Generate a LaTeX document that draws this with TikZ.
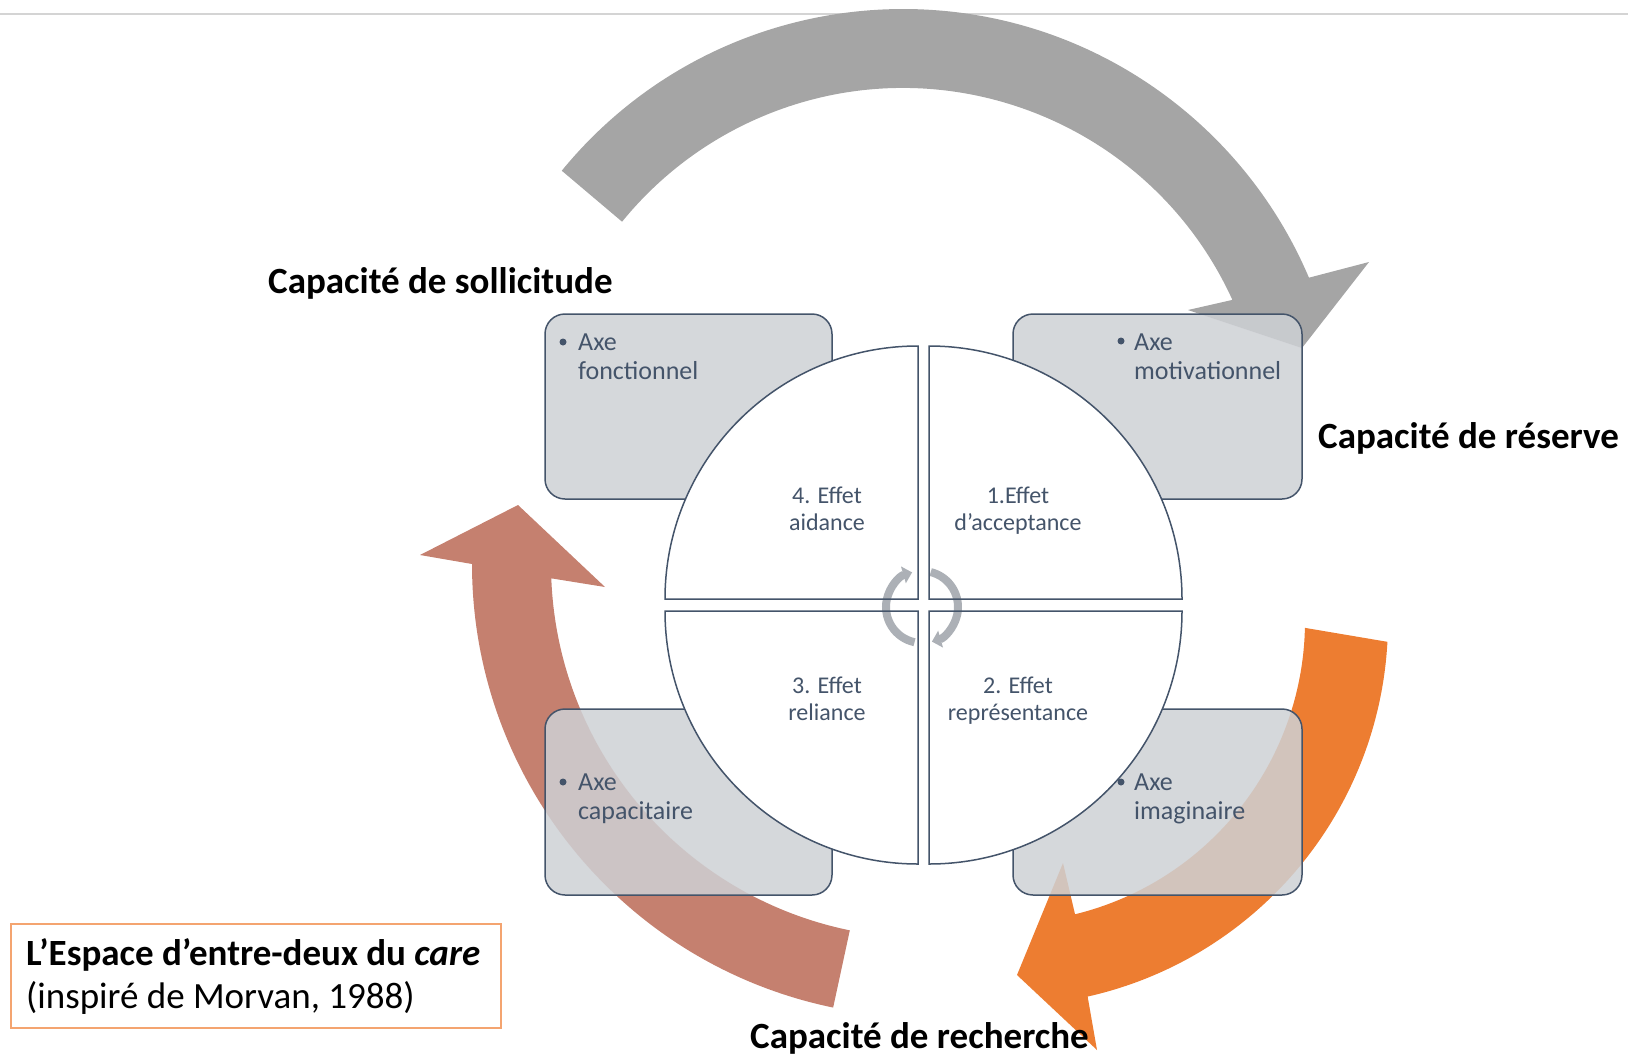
\documentclass[tikz,border=0pt]{standalone}
\usepackage{fontspec}
\setmainfont{Carlito}
\usetikzlibrary{arrows.meta}
\definecolor{slate}{RGB}{68,84,106}
\definecolor{boxgray}{RGB}{206,209,213}
\definecolor{arrgray}{RGB}{165,165,165}
\definecolor{salmonc}{RGB}{197,128,111}
\definecolor{orng}{RGB}{237,125,49}
\definecolor{legendor}{RGB}{244,164,112}
\definecolor{cyclegray}{RGB}{172,176,182}
\definecolor{rulegray}{RGB}{212,212,212}
\begin{document}
\begin{tikzpicture}[x=1pt,y=-1pt,
  axebox/.style={draw=slate, line width=1.5pt, fill=boxgray, fill opacity=0.85, rounded corners=20pt, inner sep=0pt},
  quadfill/.style={fill=white},
  quadline/.style={draw=slate, line width=1.5pt},
  axetext/.style={anchor=base west, align=left, text=slate, font=\fontsize{26}{29}\selectfont, inner sep=0pt},
  efftext/.style={anchor=base, align=center, text=slate, font=\fontsize{24}{27}\selectfont, inner sep=0pt},
  caplabel/.style={anchor=base west, font=\bfseries\fontsize{37}{44}\selectfont, inner sep=0pt},
  bulletdot/.style={circle, fill=slate, inner sep=0pt, minimum size=7pt},
  cyclearrow/.style={draw=cyclegray, line width=8pt, -{Triangle[length=9pt, width=17pt]}},
]
\useasboundingbox (0,0) rectangle (1628,1055);
% top rule
\coordinate (ruleL) at (0,13.5);
\coordinate (ruleR) at (1628,13.5);
\draw[rulegray, line width=2pt] (ruleL) -- (ruleR);

% big circular arrows
\fill[arrgray] ([shift={(903,450)}]-140.7:441) arc[start angle=-140.7, end angle=-23, radius=441]
  -- (1369,262) -- (1302,348) -- (1188,310)
  -- ([shift={(903,450)}]-24.5:362) arc[start angle=-24.5, end angle=-140.9, radius=362] -- cycle;
\fill[salmonc] ([shift={(925,564)}]101.7:453) arc[start angle=101.7, end angle=180, radius=453]
  -- (420,555) -- (518,505) -- (605,587)
  -- ([shift={(925,564)}]177.8:374) arc[start angle=177.8, end angle=101.6, radius=374] -- cycle;
\fill[orng] ([shift={(1003,621)}]3.1:385) arc[start angle=3.1, end angle=77.3, radius=385]
  -- (1097,1050) -- (1017,975) -- (1063,863)
  -- ([shift={(1003,621)}]76.2:302) arc[start angle=76.2, end angle=1.3, radius=302] -- cycle;

% boxes
\node[axebox, minimum width=287pt, minimum height=185pt] (bTL) at (688.5,406.5) {};
\node[axebox, minimum width=289pt, minimum height=185pt] (bTR) at (1157.5,406.5) {};
\node[axebox, minimum width=287pt, minimum height=186pt] (bBL) at (688.5,802) {};
\node[axebox, minimum width=289pt, minimum height=186pt] (bBR) at (1157.5,802) {};

% quadrants (fill)
\fill[quadfill] (929,599) -- (929,346) arc[start angle=-90, end angle=0, radius=253] -- cycle;
\fill[quadfill] (918,599) -- (665,599) arc[start angle=180, end angle=270, radius=253] -- cycle;
\fill[quadfill] (918,611) -- (918,864) arc[start angle=90, end angle=180, radius=253] -- cycle;
\fill[quadfill] (929,611) -- (1182,611) arc[start angle=0, end angle=90, radius=253] -- cycle;

% centre cycle arrows
\draw[cyclearrow] ([shift={(922,607)}]102:36) arc[start angle=102, end angle=254, radius=36];
\draw[cyclearrow] ([shift={(922,607)}]-76:36) arc[start angle=-76, end angle=74, radius=36];

% quadrants (outline)
\draw[quadline] (929,599) -- (929,346) arc[start angle=-90, end angle=0, radius=253] -- cycle;
\draw[quadline] (918,599) -- (665,599) arc[start angle=180, end angle=270, radius=253] -- cycle;
\draw[quadline] (918,611) -- (918,864) arc[start angle=90, end angle=180, radius=253] -- cycle;
\draw[quadline] (929,611) -- (1182,611) arc[start angle=0, end angle=90, radius=253] -- cycle;

% quadrant texts (base = last line)
\node[efftext] (q4) at (827,530) {4. Effet\\aidance};
\node[efftext] (q1) at (1018,530) {1.Effet\\d'acceptance};
\node[efftext] (q3) at (827,720) {3. Effet\\reliance};
\node[efftext] (q2) at (1018,720) {2. Effet\\représentance};

% box texts (base = last line)
\node[bulletdot] (dTL) at (563,342) {};
\node[axetext] (tTL) at (578,379) {Axe\\fonctionnel};
\node[bulletdot] (dTR) at (1121,341) {};
\node[axetext] (tTR) at (1134,379) {Axe\\motivationnel};
\node[bulletdot] (dBL) at (563,782) {};
\node[axetext] (tBL) at (578,819) {Axe\\capacitaire};
\node[bulletdot] (dBR) at (1121,782) {};
\node[axetext] (tBR) at (1134,819) {Axe\\imaginaire};

% capacity labels
\node[caplabel] (sollicitude) at (268,293) {Capacité de sollicitude};
\node[caplabel] (reserve) at (1318,448) {Capacité de réserve};
\node[caplabel] (recherche) at (750,1048) {Capacité de recherche};

% legend
\node[draw=legendor, line width=1.5pt, minimum width=490pt, minimum height=104pt, inner sep=0pt] (legend) at (256,976) {};
\node[anchor=base west, align=left, inner sep=0pt, font=\fontsize{37}{43}\selectfont] (legtext) at (26,1008)
  {\textbf{L'Espace d'entre-deux du \textit{care}}\\(inspiré de Morvan, 1988)};
\end{tikzpicture}
\end{document}
